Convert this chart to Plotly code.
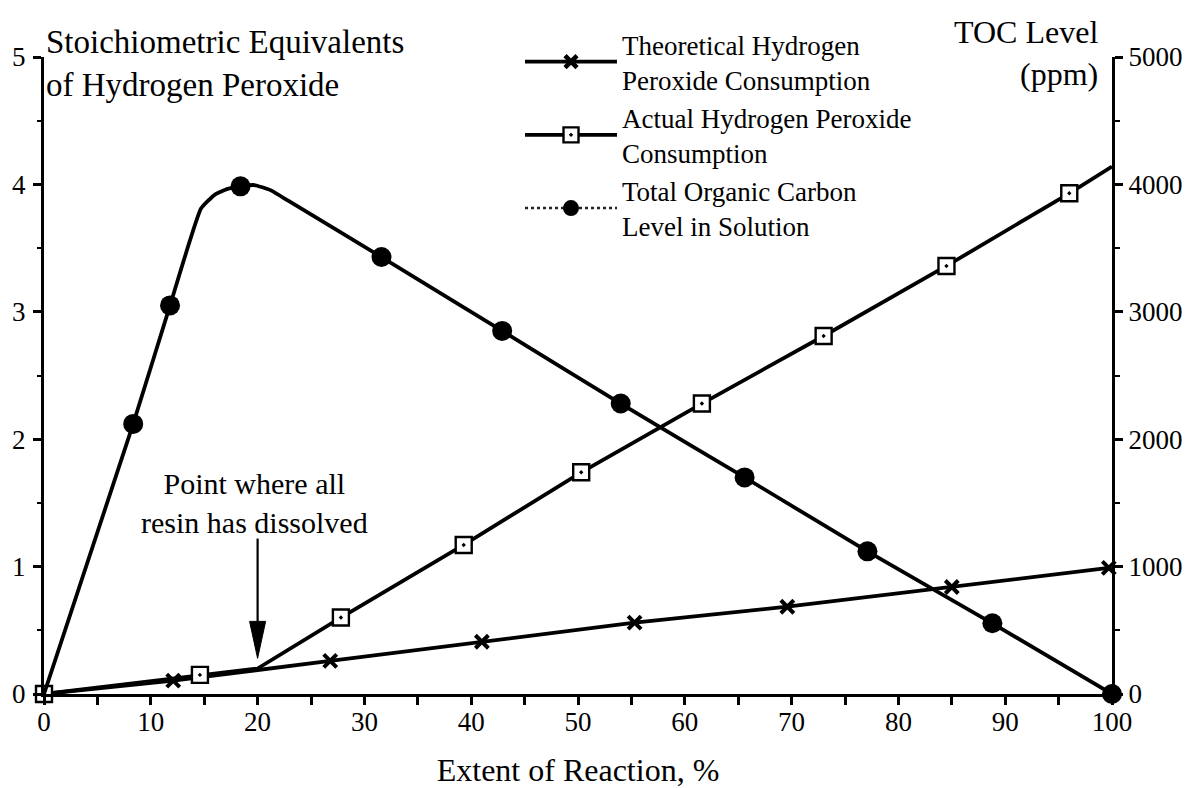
import plotly.graph_objects as go

# ---- data ----
theo_x = [0, 12.1, 26.8, 41.0, 55.3, 69.6, 85.0, 99.7]
theo_y = [0, 0.105, 0.26, 0.41, 0.56, 0.685, 0.84, 0.99]

actual_line_x = [0, 14.6, 20.0, 27.8, 39.3, 50.3, 61.6, 73.0, 84.5, 96.0, 100]
actual_line_y = [0, 0.15, 0.20, 0.60, 1.17, 1.74, 2.28, 2.81, 3.36, 3.93, 4.14]
actual_mark_x = [0, 14.6, 27.8, 39.3, 50.3, 61.6, 73.0, 84.5, 96.0]
actual_mark_y = [0, 0.15, 0.60, 1.17, 1.74, 2.28, 2.81, 3.36, 3.93]

toc_line_x = [0, 8.35, 11.8, 14.7, 16.0, 17.2, 18.4, 19.7, 21.2, 22.9, 31.6, 42.9, 54.0, 65.6, 77.1, 88.8, 100]
toc_line_y = [0, 2120, 3050, 3810, 3920, 3965, 3985, 3995, 3955, 3870, 3430, 2850, 2280, 1700, 1120, 555, 0]
toc_mark_x = [8.35, 11.8, 18.4, 31.6, 42.9, 54.0, 65.6, 77.1, 88.8, 100]
toc_mark_y = [2120, 3050, 3985, 3430, 2850, 2280, 1700, 1120, 555, 0]

left_ticks = [0, 1, 2, 3, 4, 5]
right_ticks = [0, 1000, 2000, 3000, 4000, 5000]
x_ticks = [0, 10, 20, 30, 40, 50, 60, 70, 80, 90, 100]

legend_names = ["Theoretical Hydrogen<br>Peroxide Consumption",
                "Actual Hydrogen Peroxide<br>Consumption",
                "Total Organic Carbon<br>Level in Solution"]

# "resin dissolved" arrow (extent %, equivalents)
ARROW_X = 20.0
ARROW_TIP = 0.28
ARROW_TOP = 1.22
ARROW_HEAD_LEN = 0.29
ARROW_HEAD_HALF = 0.75

FONT = "Liberation Serif, Times New Roman, serif"
BLACK = "#000000"
LW = 3.8

fig = go.Figure()

fig.add_trace(go.Scatter(x=theo_x, y=theo_y, mode="lines+markers",
                         line=dict(color=BLACK, width=LW),
                         marker=dict(symbol="x-thin", size=13, line=dict(width=4, color=BLACK)),
                         showlegend=False, cliponaxis=False))
fig.add_trace(go.Scatter(x=actual_line_x, y=actual_line_y, mode="lines",
                         line=dict(color=BLACK, width=LW), showlegend=False, cliponaxis=False))
fig.add_trace(go.Scatter(x=actual_mark_x, y=actual_mark_y, mode="markers",
                         marker=dict(symbol="square-dot", size=16, color="white",
                                     line=dict(width=2.4, color=BLACK)),
                         showlegend=False, cliponaxis=False))
fig.add_trace(go.Scatter(x=toc_line_x, y=toc_line_y, mode="lines", yaxis="y2",
                         line=dict(color=BLACK, width=LW, shape="spline", smoothing=0.4),
                         showlegend=False, cliponaxis=False))
fig.add_trace(go.Scatter(x=toc_mark_x, y=toc_mark_y, mode="markers", yaxis="y2",
                         marker=dict(symbol="circle", size=20, color=BLACK),
                         showlegend=False, cliponaxis=False))

# legend-only entries
fig.add_trace(go.Scatter(x=[None], y=[None], mode="lines+markers", name=legend_names[0],
                         line=dict(color=BLACK, width=3.8),
                         marker=dict(symbol="x-thin", size=12, line=dict(width=4.5, color=BLACK))))
fig.add_trace(go.Scatter(x=[None], y=[None], mode="lines+markers", name=legend_names[1],
                         line=dict(color=BLACK, width=3.8),
                         marker=dict(symbol="square-dot", size=15, color="white",
                                     line=dict(width=2.4, color=BLACK))))
fig.add_trace(go.Scatter(x=[None], y=[None], mode="lines+markers", name=legend_names[2],
                         line=dict(color="#222222", width=2.4, dash="dot"),
                         marker=dict(symbol="circle", size=19, color=BLACK)))

axis_common = dict(showgrid=False, zeroline=False, showline=True, linecolor=BLACK, linewidth=3,
                   ticks="outside", ticklen=8, tickwidth=2.5, tickcolor=BLACK, automargin=False,
                   tickfont=dict(family=FONT, size=27, color=BLACK))

# the page adds an 8px body margin, so the figure is sized to fill the 1202x788 window
fig.update_layout(
    width=1194, height=780,
    margin=dict(l=36, r=90, t=36, b=94),
    paper_bgcolor="white", plot_bgcolor="white",
    font=dict(family=FONT, color=BLACK),
    xaxis=dict(range=[0, 100], tickvals=x_ticks, ticktext=[str(v) for v in x_ticks],
               minor=dict(dtick=5, ticks="outside", ticklen=8, tickwidth=2.5, tickcolor=BLACK),
               ticklabelstandoff=-6,
               title=dict(text="Extent of Reaction, %", font=dict(family=FONT, size=32, color=BLACK),
                          standoff=25),
               **axis_common),
    yaxis=dict(range=[0, 5], tickvals=left_ticks, ticktext=[str(v) for v in left_ticks],
               minor=dict(dtick=0.5, ticks="outside", ticklen=4, tickwidth=2, tickcolor=BLACK),
               ticklabelstandoff=2,
               **axis_common),
    yaxis2=dict(range=[0, 5000], overlaying="y", side="right", anchor="x",
                tickvals=right_ticks, ticktext=[str(v) for v in right_ticks],
                minor=dict(dtick=500, ticks="outside", ticklen=5, tickwidth=2, tickcolor=BLACK),
                **axis_common),
    legend=dict(x=0.4457, y=1.058, xanchor="left", yanchor="top",
                font=dict(family=FONT, size=27, color=BLACK),
                bgcolor="rgba(0,0,0,0)", itemwidth=92),
    showlegend=True,
)

fig.add_annotation(text="Stoichiometric Equivalents<br>of Hydrogen Peroxide",
                   xref="paper", yref="paper", x=0.0, y=1.055, xanchor="left", yanchor="top",
                   align="left", showarrow=False,
                   font=dict(family=FONT, size=33, color=BLACK))
fig.add_annotation(text="TOC Level<br>(ppm)",
                   xref="paper", yref="paper", x=0.9888, y=1.07, xanchor="right", yanchor="top",
                   align="right", showarrow=False,
                   font=dict(family=FONT, size=32, color=BLACK))

# arrow marking where all resin dissolved
fig.add_shape(type="line", xref="x", yref="y", x0=ARROW_X, x1=ARROW_X,
              y0=ARROW_TOP, y1=ARROW_TIP + ARROW_HEAD_LEN * 0.5,
              line=dict(color=BLACK, width=2.2))
fig.add_shape(type="path", xref="x", yref="y",
              path=(f"M {ARROW_X},{ARROW_TIP} L {ARROW_X - ARROW_HEAD_HALF},{ARROW_TIP + ARROW_HEAD_LEN} "
                    f"L {ARROW_X + ARROW_HEAD_HALF},{ARROW_TIP + ARROW_HEAD_LEN} Z"),
              fillcolor=BLACK, line=dict(color=BLACK, width=1))
fig.add_annotation(text="Point where all<br>resin has dissolved", x=ARROW_X - 0.3, y=1.5,
                   xref="x", yref="y", xanchor="center", yanchor="middle", showarrow=False,
                   font=dict(family=FONT, size=30, color=BLACK))

fig.write_html("out.html")
